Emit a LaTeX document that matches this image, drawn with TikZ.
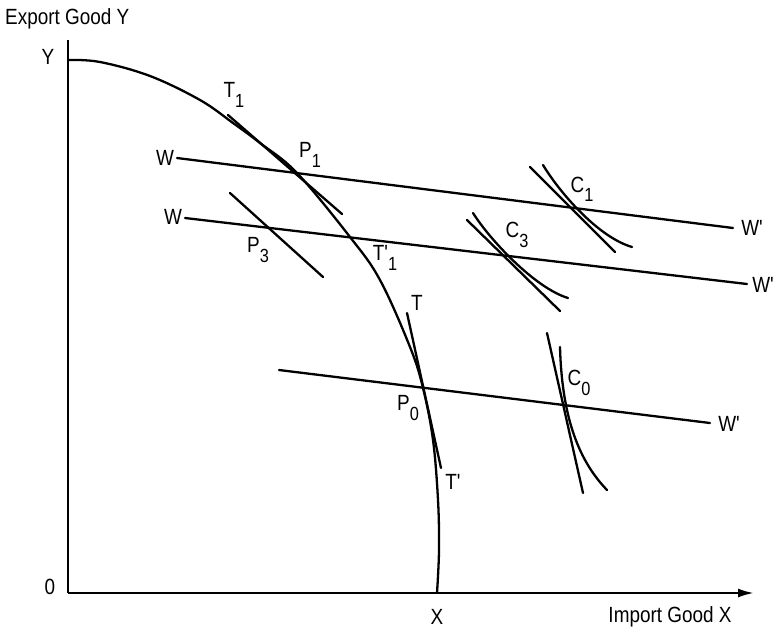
\documentclass[tikz,border=0pt]{standalone}
\usepackage{fontspec}
\usetikzlibrary{arrows.meta}
\newfontfamily\labfont{Liberation Sans}[FakeStretch=0.86]
\newcommand{\lsub}[1]{\raisebox{-0.42em}{\fontsize{19}{19}\selectfont #1}}
\begin{document}
\begin{tikzpicture}[x=1pt,y=-1pt,
  curve/.style={line width=2.3pt,line cap=round},
  lab/.style={inner sep=0pt,font=\labfont\fontsize{22}{24}\selectfont}]
\useasboundingbox (0,0) rectangle (778,632);
% axes
\coordinate (O) at (68,593);
\coordinate (Ytop) at (68,40);
\coordinate (Xend) at (754,593);
\draw[line width=2.3pt] (Ytop) -- (O);
\draw[line width=2.3pt,-{Latex[length=16pt,width=9pt]}] (O) -- (Xend);
% production possibility frontier
\draw[curve] plot[smooth,tension=0.6] coordinates {(68,60) (100,62) (150,76) (200,100) (233,123) (260,143) (297,173) (350,237) (380,280) (410,347) (423,388) (433,440) (438,500) (439,550) (437,593)};
% price lines
\coordinate (wa1) at (177,158); \coordinate (wa2) at (733,228);
\coordinate (wb1) at (185,218); \coordinate (wb2) at (747,284);
\coordinate (wc1) at (279,370); \coordinate (wc2) at (710,423);
\draw[curve] (wa1) -- (wa2);
\draw[curve] (wb1) -- (wb2);
\draw[curve] (wc1) -- (wc2);
% tangents
\coordinate (t1a) at (228,115); \coordinate (t1b) at (342,214);
\draw[curve] (t1a) -- (t1b);
\coordinate (p3a) at (230,193); \coordinate (p3b) at (323,277);
\draw[curve] (p3a) -- (p3b);
\coordinate (ta) at (407,313); \coordinate (tb) at (441,468);
\draw[curve] (ta) -- (tb);
% consumption points
\coordinate (c1a) at (530,167); \coordinate (c1b) at (615,252);
\draw[curve] (c1a) -- (c1b);
\draw[curve] (543,165) .. controls (560,193) and (598,237) .. (632,247);
\coordinate (c3a) at (467,220); \coordinate (c3b) at (560,311);
\draw[curve] (c3a) -- (c3b);
\draw[curve] (473,213) .. controls (490,240) and (535,288) .. (568,298);
\coordinate (c0a) at (547,333); \coordinate (c0b) at (583,493);
\draw[curve] (c0a) -- (c0b);
\draw[curve] (560,347) .. controls (562,420) and (580,462) .. (607,490);
% labels
\node[lab,anchor=west] (ey) at (5,19) {Export Good Y};
\node[lab] (ly) at (48,57) {Y};
\node[lab] (l0) at (50,587) {0};
\node[lab] (lx) at (437,617) {X};
\node[lab] (ix) at (670,617) {Import Good X};
\node[lab] (lt1) at (234,95) {T\lsub{1}};
\node[lab] (lwa) at (165,158) {W};
\node[lab] (lwb) at (173,217) {W};
\node[lab] (lp1) at (310,155) {P\lsub{1}};
\node[lab] (lp3) at (258,250) {P\lsub{3}};
\node[lab] (lt1p) at (385,258) {T'\lsub{1}};
\node[lab] (lc1) at (582,189) {C\lsub{1}};
\node[lab] (lc3) at (517,235) {C\lsub{3}};
\node[lab] (lwa2) at (752,228) {W'};
\node[lab] (lwb2) at (763,285) {W'};
\node[lab] (lt) at (417,303) {T};
\node[lab] (lp0) at (408,408) {P\lsub{0}};
\node[lab] (ltp) at (453,482) {T'};
\node[lab] (lc0) at (579,383) {C\lsub{0}};
\node[lab] (lwc2) at (729,424) {W'};
\end{tikzpicture}
\end{document}
